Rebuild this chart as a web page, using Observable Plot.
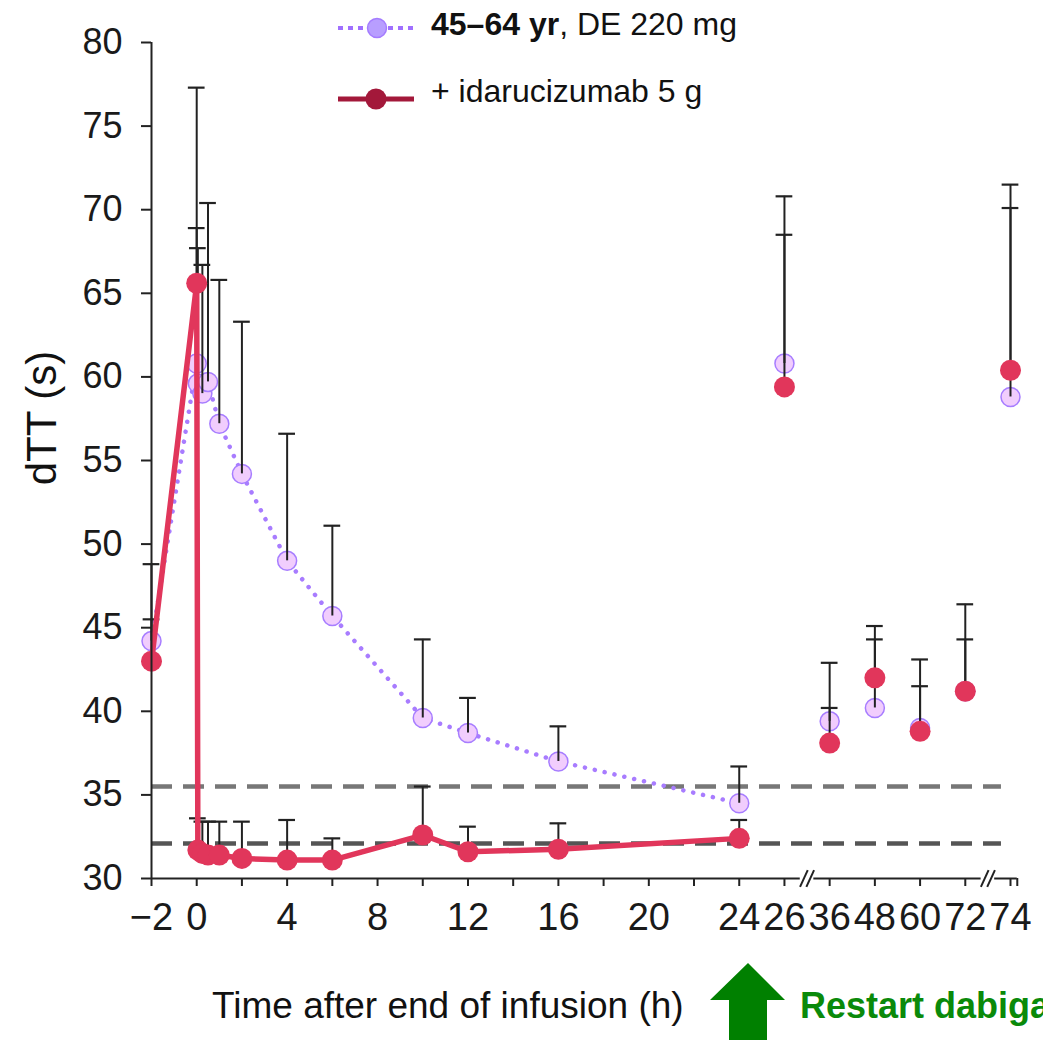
<!DOCTYPE html>
<html><head><meta charset="utf-8">
<script src="https://cdn.jsdelivr.net/npm/d3@7"></script>
<script src="https://cdn.jsdelivr.net/npm/@observablehq/plot@0.6"></script>
<style>
body{margin:0;background:#fff;font-family:"Liberation Sans",Arial,sans-serif;overflow:hidden}
#wrap{position:relative;width:1043px;height:1040px;overflow:hidden;background:#fff}
#wrap svg.plot{position:absolute;left:0;top:0}
.leg{position:absolute;font-size:32px;color:#111;white-space:nowrap;line-height:1}
.xt{position:absolute;font-size:37px;color:#111;white-space:nowrap;line-height:1}
.yt{position:absolute;font-size:42px;color:#111;white-space:nowrap;line-height:1;transform:translate(-50%,-50%) rotate(-90deg)}
.rs{position:absolute;font-size:36px;color:#0a8a0a;font-weight:bold;white-space:nowrap;line-height:1}
</style></head><body><div id="wrap"></div>
<script>
// ---- data ----
const hours     = [-2, 0, 0.05, 0.25, 0.5, 1, 2, 4, 6, 10, 12, 16, 24, 26, 36, 48, 60, 72, 74];
const deMean    = [44.2, 60.8, 59.6, 59.0, 59.7, 57.2, 54.2, 49.0, 45.7, 39.6, 38.7, 37.0, 34.5, 60.8, 39.4, 40.2, 39.0, 41.2, 58.8];
const deUpper   = [45.5, 68.9, 67.7, 66.7, 70.4, 65.8, 63.3, 56.6, 51.1, 44.3, 40.8, 39.1, 36.7, 68.5, 40.2, 44.3, 41.5, 44.3, 70.1];
const idaHours  = [-2, 0, 0.05, 0.25, 0.5, 1, 2, 4, 6, 10, 12, 16, 24, 26, 36, 48, 60, 72, 74];
const idaMean   = [43.0, 65.6, 31.7, 31.5, 31.4, 31.4, 31.2, 31.1, 31.1, 32.6, 31.6, 31.75, 32.4, 59.4, 38.1, 42.0, 38.8, 41.2, 60.4];
const idaUpper  = [48.8, 77.3, 33.6, 33.4, 33.4, 33.4, 33.4, 33.5, 32.4, 35.5, 33.1, 33.3, 33.5, 70.8, 42.9, 45.1, 43.1, 46.4, 71.5];
const lateHours = [26, 36, 48, 60, 72, 74];
const tickHours = [-2, 0, 2, 4, 6, 8, 10, 12, 14, 16, 18, 20, 22, 24, 26, 36, 48, 60, 72, 74];
const labeledHours = [-2, 0, 4, 8, 12, 16, 20, 24, 26, 36, 48, 60, 72, 74];
const thresholds = [35.5, 32.1];
const thresholdColors = ["#777777", "#555555"];
const yTicks = [30, 35, 40, 45, 50, 55, 60, 65, 70, 75, 80];

// broken axis: hours up to 24 are linear, later hours are evenly spaced
const pos = h => h <= 24 ? h : 26 + 2 * lateHours.indexOf(h);
const breaksAt = [(pos(26) + pos(36)) / 2, (pos(72) + pos(74)) / 2];
const axisEnd = pos(74) + 0.3;

const de  = hours.map((h, i) => ({h, x: pos(h), y: deMean[i], up: deUpper[i]}));
const ida = idaHours.map((h, i) => ({h, x: pos(h), y: idaMean[i], up: idaUpper[i]}));
const deLine = de.filter(d => d.h <= 24);
const idaLine = ida.filter(d => d.h <= 24);
const bars = [...de, ...ida];

const gap = 0.3;
const axisSegs = [
  {x1: -2, x2: breaksAt[0] - gap},
  {x1: breaksAt[0] + gap, x2: breaksAt[1] - gap},
  {x1: breaksAt[1] + gap, x2: axisEnd}
];
const slashes = breaksAt.flatMap(b => [-0.14, 0.14].map(o => ({x1: b + o - 0.17, x2: b + o + 0.17, y1: 29.5, y2: 30.5})));

const lbl = h => labeledHours.includes(h) ? String(h).replace("-", "\u2212") : "";
const tickPos = tickHours.map(pos);
const posLabel = new Map(tickHours.map(h => [pos(h), lbl(h)]));

const RED = "#e1365b", PURP = "#a87cff";

const chart = Plot.plot({
  width: 1043, height: 1040,
  marginLeft: 151, marginRight: 33, marginTop: 42, marginBottom: 162,
  x: {domain: [-2, 36]},
  y: {domain: [30, 80]},
  style: {fontFamily: "Liberation Sans, Arial, sans-serif", color: "#1a1a1a", background: "transparent", overflow: "visible"},
  marks: [
    // threshold dashed lines
    Plot.ruleY(thresholds, {y: d => d, x1: -2, x2: 35.6, stroke: (d, i) => thresholdColors[i], strokeWidth: 4.5, strokeDasharray: "21 11"}),
    // DE line + dots
    Plot.line(deLine, {x: "x", y: "y", stroke: PURP, strokeWidth: 4.5, strokeDasharray: "0.1 10", strokeLinecap: "round"}),
    Plot.dot(de, {x: "x", y: "y", r: 9.5, fill: "#f1cdfd", stroke: "#a77dff", strokeWidth: 1.5}),
    // error bars
    Plot.ruleX(bars, {x: "x", y1: "y", y2: "up", stroke: "#222", strokeWidth: 2}),
    Plot.ruleY(bars, {y: "up", x1: d => d.x - 0.37, x2: d => d.x + 0.37, stroke: "#222", strokeWidth: 2.2}),
    // idarucizumab line + dots
    Plot.line(idaLine, {x: "x", y: "y", stroke: RED, strokeWidth: 5.5}),
    Plot.dot(ida, {x: "x", y: "y", r: 10.5, fill: RED}),
    // axes
    Plot.ruleX([-2], {y1: 30, y2: 80, stroke: "#222", strokeWidth: 2}),
    Plot.axisY({ticks: yTicks, tickSize: 10, tickPadding: 19, fontSize: 36, label: null, stroke: "#222", strokeWidth: 2}),
    Plot.ruleY(axisSegs, {y: 30, x1: "x1", x2: "x2", stroke: "#222", strokeWidth: 2}),
    Plot.axisX({ticks: [...tickPos, axisEnd], tickFormat: p => posLabel.get(p) ?? "", tickSize: 8, tickPadding: 17, fontSize: 38, label: null, stroke: "#222", strokeWidth: 2}),
    Plot.link(slashes, {x1: "x1", x2: "x2", y1: "y1", y2: "y2", stroke: "#222", strokeWidth: 2})
  ]
});
chart.classList.add("plot");
const wrap = document.getElementById("wrap");
wrap.appendChild(chart);

// legend, axis titles and annotation (HTML overlay)
wrap.insertAdjacentHTML("beforeend", `
<svg style="position:absolute;left:330px;top:0" width="100" height="120">
  <line x1="8" x2="84" y1="28" y2="28" stroke="#a070ff" stroke-width="4" stroke-dasharray="5 5"/>
  <circle cx="47" cy="28" r="9.5" fill="#b89eff" stroke="#a47cff" stroke-width="1.5"/>
  <line x1="8" x2="84" y1="99" y2="99" stroke="#a3183a" stroke-width="5"/>
  <circle cx="46" cy="99" r="10.5" fill="#a3183a"/>
</svg>
<div class="leg" style="left:431px;top:8px"><b>45–64 yr</b>, DE 220 mg</div>
<div class="leg" style="left:431px;top:75px">+ idarucizumab 5 g</div>
<div class="yt" style="left:42px;top:418px">dTT (s)</div>
<div class="xt" style="left:212px;top:987px">Time after end of infusion (h)</div>
<svg style="position:absolute;left:700px;top:955px" width="95" height="90">
  <polygon points="48,8 85,45 67,45 67,90 29,90 29,45 10,45" fill="#008000"/>
</svg>
<div class="rs" style="left:800px;top:988px">Restart dabigatran</div>
`);
</script></body></html>
